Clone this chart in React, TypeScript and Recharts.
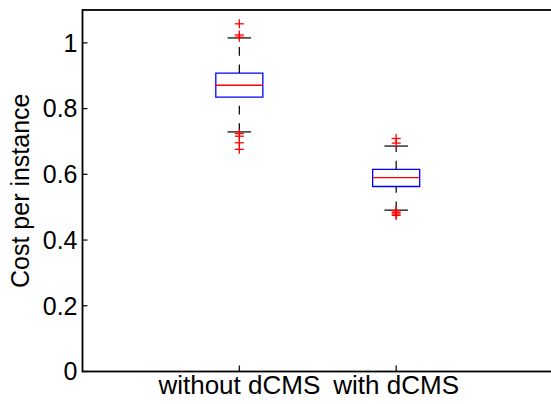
import React from "react";
import {
  ComposedChart,
  XAxis,
  YAxis,
  Scatter,
  ReferenceArea,
  ReferenceLine,
  Label,
} from "recharts";

// box plot stats
const categories = ["without dCMS", "with dCMS"];
const positions = [1, 2];
const q1 = [0.835, 0.563];
const median = [0.871, 0.59];
const q3 = [0.908, 0.615];
const whiskerLow = [0.729, 0.491];
const whiskerHigh = [1.015, 0.686];

const outliersWithout = [1.058, 1.024, 1.017, 0.724, 0.716, 0.696, 0.676];
const outliersWith = [0.709, 0.695, 0.489, 0.484, 0.479, 0.475];

const yTicks = [0, 0.2, 0.4, 0.6, 0.8, 1];
const xDomain = [0, 3];
const yDomain = [0, 1.1];

const outlierData = [
  ...outliersWithout.map((v) => ({ x: positions[0], y: v })),
  ...outliersWith.map((v) => ({ x: positions[1], y: v })),
];

const BOX_HALF = 0.15;
const CAP_HALF = 0.075;

const PlusShape = (props: any) => {
  const { cx, cy } = props;
  if (cx == null || cy == null) return null;
  return (
    <g stroke="#ff0000" strokeWidth={1.3}>
      <line x1={cx - 4.5} y1={cy} x2={cx + 4.5} y2={cy} />
      <line x1={cx} y1={cy - 4.5} x2={cx} y2={cy + 4.5} />
    </g>
  );
};

const NoTick = () => <g />;

// plot frame, drawn from the area's own box
const Frame = (props: any) => (
  <rect x={props.x} y={props.y} width={props.width} height={props.height} fill="none" stroke="#000" strokeWidth={1.8} />
);

const font = "'Liberation Sans', Arial, sans-serif";
const tickLine = { stroke: "#000", strokeWidth: 1.2 };

export default function App() {
  return (
    <div style={{ position: "absolute", left: 0, top: 0, width: 551, height: 404, overflow: "hidden", background: "#fff" }}>
      <ComposedChart
        width={556}
        height={404}
        margin={{ top: 10, right: 3, bottom: 0, left: 0 }}
        style={{ fontFamily: font }}
      >
        <XAxis
          xAxisId={0}
          type="number"
          dataKey="x"
          domain={xDomain}
          ticks={positions}
          tickFormatter={(v) => categories[positions.indexOf(v)] ?? ""}
          height={32.5}
          axisLine={false}
          tickLine={tickLine}
          tickSize={-6}
          tickMargin={10}
          tick={{ fill: "#000", fontSize: 26 }}
          interval={0}
        />
        <XAxis
          xAxisId="top"
          orientation="top"
          mirror
          type="number"
          domain={xDomain}
          ticks={positions}
          height={0}
          axisLine={false}
          tickLine={tickLine}
          tickSize={6}
          tick={NoTick}
          interval={0}
        />
        <YAxis
          yAxisId={0}
          type="number"
          dataKey="y"
          domain={yDomain}
          ticks={yTicks}
          width={82.5}
          axisLine={false}
          tickLine={tickLine}
          tickSize={-5}
          tickMargin={10}
          tick={{ fill: "#000", fontSize: 25 }}
          interval={0}
        >
          <Label
            value="Cost per instance"
            angle={-90}
            position="insideLeft"
            offset={20}
            style={{ textAnchor: "middle", fill: "#000", fontSize: 25 }}
          />
        </YAxis>
        <YAxis
          yAxisId="right"
          orientation="right"
          mirror
          type="number"
          domain={yDomain}
          ticks={yTicks}
          width={0}
          axisLine={false}
          tickLine={tickLine}
          tickSize={5}
          tick={NoTick}
          interval={0}
        />

        <ReferenceArea x1={xDomain[0]} x2={xDomain[1]} y1={yDomain[0]} y2={yDomain[1]} shape={Frame} />

        {positions.map((p, i) => (
          <ReferenceLine
            key={`wl${i}`}
            segment={[{ x: p, y: whiskerLow[i] }, { x: p, y: q1[i] }]}
            stroke="#000"
            strokeWidth={1.2}
            strokeDasharray="8.7 8.7"
          />
        ))}
        {positions.map((p, i) => (
          <ReferenceLine
            key={`wh${i}`}
            segment={[{ x: p, y: q3[i] }, { x: p, y: whiskerHigh[i] }]}
            stroke="#000"
            strokeWidth={1.2}
            strokeDasharray="8.7 8.7"
          />
        ))}
        {positions.map((p, i) => (
          <ReferenceLine
            key={`cl${i}`}
            segment={[{ x: p - CAP_HALF, y: whiskerLow[i] }, { x: p + CAP_HALF, y: whiskerLow[i] }]}
            stroke="#000"
            strokeWidth={1.2}
          />
        ))}
        {positions.map((p, i) => (
          <ReferenceLine
            key={`ch${i}`}
            segment={[{ x: p - CAP_HALF, y: whiskerHigh[i] }, { x: p + CAP_HALF, y: whiskerHigh[i] }]}
            stroke="#000"
            strokeWidth={1.2}
          />
        ))}
        {positions.map((p, i) => (
          <ReferenceArea
            key={`box${i}`}
            x1={p - BOX_HALF}
            x2={p + BOX_HALF}
            y1={q1[i]}
            y2={q3[i]}
            fill="none"
            fillOpacity={0}
            stroke="#0000ff"
            strokeWidth={1.3}
            strokeOpacity={1}
          />
        ))}
        {positions.map((p, i) => (
          <ReferenceLine
            key={`med${i}`}
            segment={[{ x: p - BOX_HALF, y: median[i] }, { x: p + BOX_HALF, y: median[i] }]}
            stroke="#ff0000"
            strokeWidth={1.3}
          />
        ))}
        <Scatter data={outlierData} shape={PlusShape} isAnimationActive={false} />
      </ComposedChart>
    </div>
  );
}
